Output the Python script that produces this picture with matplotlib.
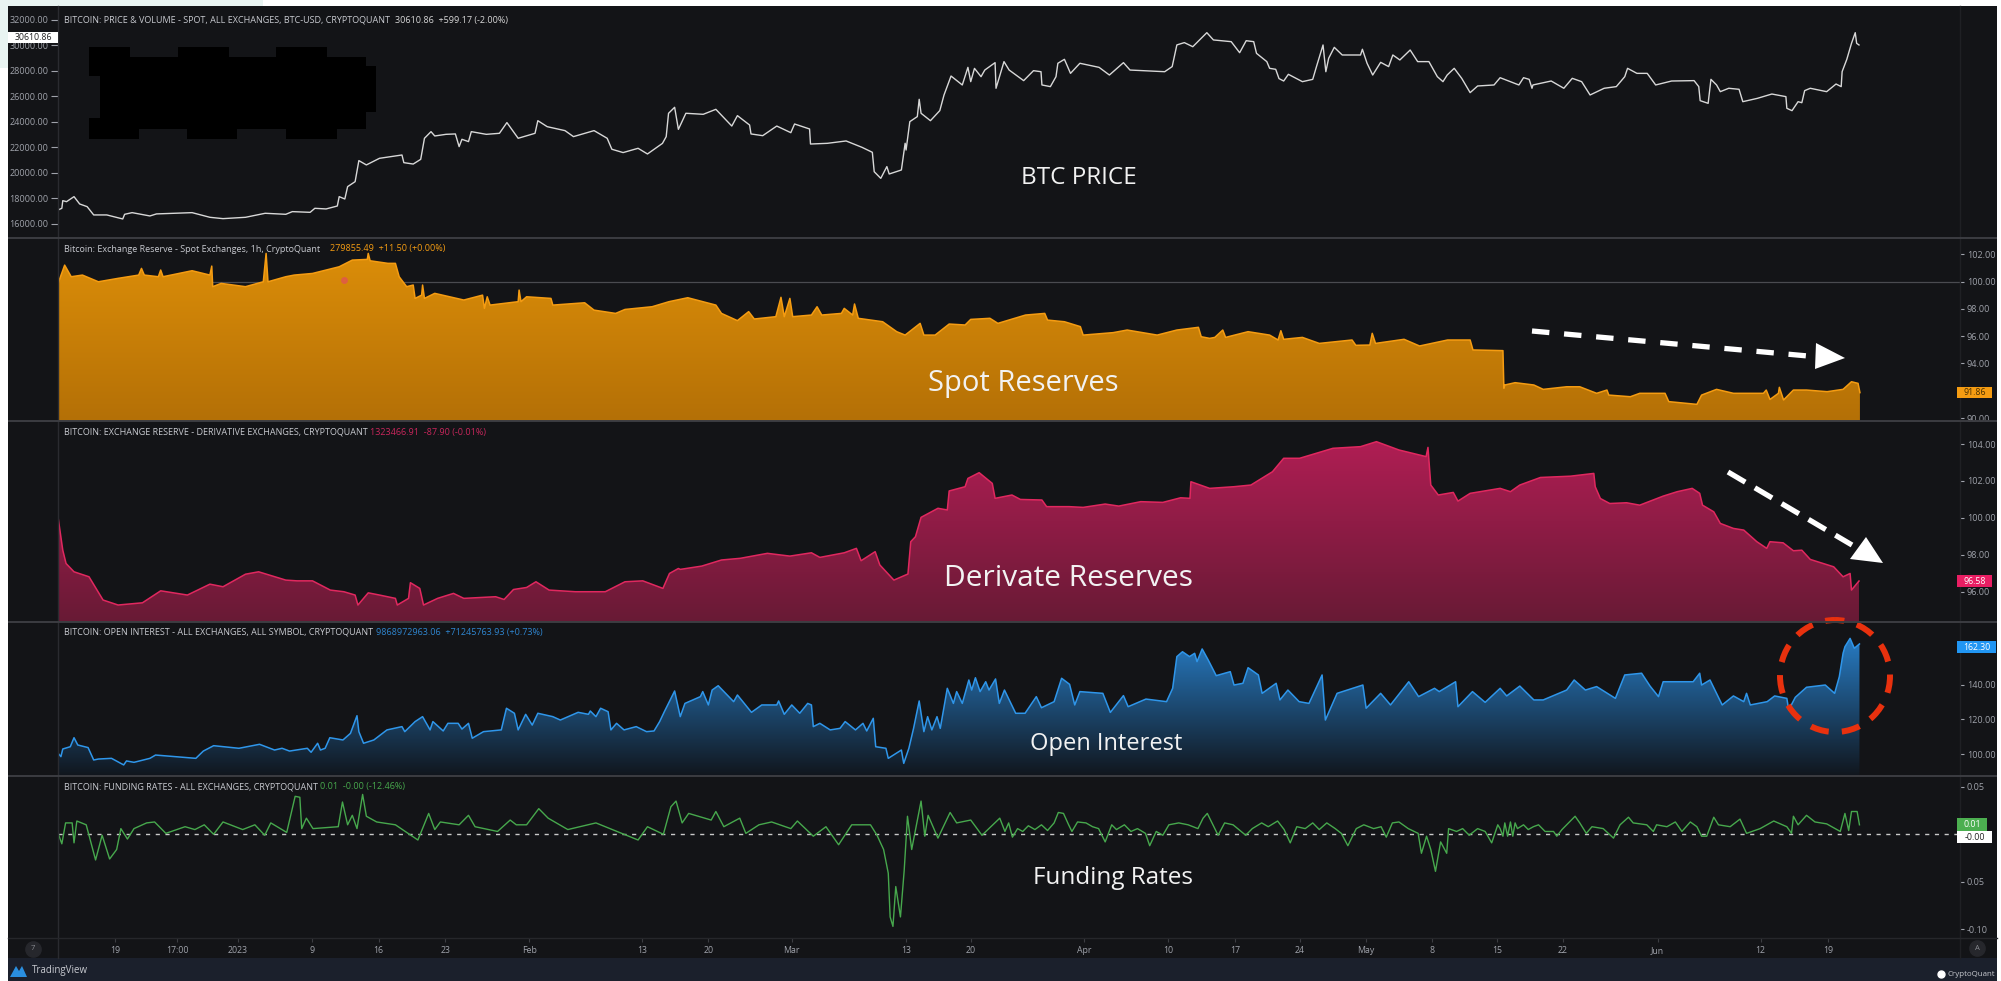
import matplotlib
matplotlib.use("Agg")
import matplotlib.pyplot as plt
import numpy as np
from matplotlib.colors import LinearSegmentedColormap
from matplotlib.patches import Ellipse, Polygon, Rectangle

W, H = 2001, 981

# x is days from 1 Jan 2023
price_days = [-19.2,-18.8,-18.7,-18.3,-17.5,-16.9,-16.1,-15.4,-14.0,-12.3,-12.1,-11.3,-9.4,-8.7,-4.9,-3.0,-1.6,0.8,2.9,5.1,5.8,7.7,8.2,9.4,10.6,10.8,11.4,11.7,12.5,12.9,13.7,15.1,17.5,17.7,18.7,19.5,19.9,20.6,21.0,22.2,23.2,23.6,23.9,24.6,24.9,26.5,27.9,28.7,29.9,31.7,32,33,34.9,35.8,38,39.4,39.9,41.1,42.7,43.7,45.3,45.7,45.95,46.6,47.0,47.8,49.65,51,52.7,53.3,54.6,54.75,56,57.5,59,59.4,61,61.1,62.9,64.9,66.6,67.7,67.9,68.6,69.25,69.5,70.8,71.2,71.3,71.7,72.5,72.7,72.9,73.9,74.9,75.35,76.1,77.3,77.9,78.2,78.6,79.3,79.7,80.8,80.9,81.75,82.3,83.85,84.9,85.7,85.8,86.7,87.3,87.5,88.2,88.85,89.85,91.9,93,94.5,95.2,98.9,99.7,100.2,101,101.9,103.4,104.1,106,106.9,107.6,108.4,108.7,109.8,110.1,110.75,111.1,111.6,112.1,113.6,114.7,115.1,115.8,116.1,116.4,117,117.85,119.8,120,120.5,121.1,121.95,122.8,123.25,124,125.1,125.9,127.1,128,128.6,129.05,129.8,130.6,131.5,132.3,134.05,134.7,136.7,137.2,137.8,138.1,138.2,140.15,141.5,142.4,143.4,144.3,145.8,147.1,148,148.3,149.3,150.4,151.3,153,155.4,155.9,156.05,156.9,157.2,157.8,158.2,159.1,160.2,160.6,162.15,163.7,165.2,165.3,165.85,166.5,166.9,167.2,167.8,169.55,170.55,171.1,171.2,171.7,172.2,172.6,172.75,173]
price_values = [17100,17230,17830,17750,18145,17570,17360,16710,16710,16395,16760,16890,16630,16790,16890,16525,16420,16525,16840,16760,16970,16915,17230,17180,17410,18145,17960,18930,19320,20970,20630,21150,21410,20810,20700,21070,22720,23240,22900,23030,23060,22065,22640,22460,23240,23030,23110,23950,22720,23110,24100,23630,23320,22850,23320,22720,21860,21600,21935,21490,22320,22850,24678,25150,23420,24680,24600,24990,23680,24495,23760,23060,22925,23680,23160,23840,23450,22270,22325,22510,22010,21620,20100,19580,20500,19920,20235,22330,21800,24025,24420,25775,24680,24100,24890,26115,27600,26900,28280,27160,28200,27550,28070,28650,26640,28730,28070,27240,28020,27940,26900,26770,27550,28600,28910,27810,28600,28280,27680,28650,28070,27940,28340,30040,30220,29900,31000,30430,30295,29430,30370,30295,29380,28730,28205,28127,27400,27210,27735,27160,27340,28340,30035,27940,28990,29850,29250,29250,29700,28600,27680,28675,28340,29250,28860,29640,28730,28730,27550,27160,27680,28205,27420,26300,26820,26900,27470,26900,27470,27340,26640,26900,27210,26640,27420,27160,26115,26640,26770,27550,28205,27810,27810,26900,27210,27240,26770,25670,25460,27340,26900,26375,26640,26560,25590,25850,26190,25985,25070,24885,25590,25510,26455,26640,26375,26975,26770,27945,28910,30165,31000,30165,30035]

spot_days = [-19.2,-18.5,-17.8,-16.6,-14.9,-12.8,-10.6,-10.3,-10,-8.5,-8.25,-8,-4.9,-3,-2.8,-2.7,-1.8,0.8,2.7,3,3.2,5.1,6,7.95,10.8,12.2,13.8,13.9,14.1,16,16.8,17.2,18,18.7,18.9,19.6,19.7,19.9,21,24.1,26.1,26.3,26.6,26.9,29.9,30,30.2,30.8,33.4,33.6,37,38,40.3,41.3,44.2,46,48,51,51.6,53.3,54.5,55.1,57.4,57.95,58.3,58.9,59.2,61.2,61.8,62.3,64.4,64.7,65.6,65.8,66.2,68.8,70.3,71.2,72.8,73.2,74.4,75.9,77.6,78.2,80.25,81.1,84.05,86.1,86.4,88.2,89.9,90.2,93.4,94.9,98.1,100.2,102.5,102.8,103.7,104.25,105.1,105.4,107.8,110.1,111,111.3,111.6,113.6,115.4,118.9,119.3,120.8,121.05,121.4,124.45,126.1,129.1,131.5,131.8,135,135.1,135.2,136.3,138.3,139.3,141.8,143.2,145,146.1,146.3,148.6,149.6,152.3,152.7,155.7,156.2,157.8,159.6,162.8,163.1,163.5,164.4,164.5,164.95,166,167.4,169.6,171.3,172.2,172.9,173.1]
spot_values = [99.87,101.21,100.36,100.48,99.99,100.24,100.48,100.97,100.48,100.36,100.85,100.36,100.8,100.48,101.14,99.63,99.87,99.63,99.99,102.07,99.99,100.36,100.48,100.6,101.09,101.58,101.63,102.07,101.53,101.34,101.34,100.36,99.63,99.75,98.77,99.01,99.75,98.77,99.14,98.65,99.01,98.04,98.89,98.28,98.53,99.38,98.53,98.89,98.77,98.28,98.45,97.91,97.67,97.96,98.16,98.53,98.82,98.28,97.67,97.14,97.8,97.26,97.43,98.85,97.43,98.77,97.43,97.55,98.16,97.55,97.67,98.04,97.55,98.36,97.31,97.06,96.33,96.08,96.94,96.08,96.08,96.89,96.82,97.23,97.31,96.94,97.55,97.67,97.18,97.06,96.7,96.08,96.26,96.45,96.08,96.45,96.65,95.96,95.84,95.91,96.45,95.91,96.33,96.08,95.72,96.4,95.77,95.91,95.47,95.72,95.33,95.35,96.21,95.47,95.77,95.28,95.72,95.72,94.99,94.94,92.18,92.42,92.59,92.42,92.1,92.29,92.29,91.81,92.05,91.68,91.56,91.81,91.81,91.2,91,91.68,92.1,91.81,91.81,92.05,91.36,91.81,92.25,91.32,92.05,92.05,91.93,92.1,92.66,92.54,91.86]

deriv_days = [-19.2,-18.7,-18.35,-17.5,-15.9,-14.4,-12.8,-10.2,-8.25,-5.4,-3,-1.6,0.8,2.2,5.1,6.3,7.95,9.85,11.3,12.5,12.8,13.9,15.1,16.8,17,18.2,18.4,19.4,19.8,21.3,23,24.1,27.5,28.4,29.4,30.8,31.8,33.2,36,39.2,41.3,43.2,45.35,46.05,47,47.2,49.5,51.6,53.6,56.5,58.9,61.2,62.1,64.7,66,66.5,68,68.5,70,71.5,71.8,72.3,72.9,74.7,75.7,75.9,77.6,77.9,79.1,80.5,80.8,82.6,83.5,85.8,86.3,88.7,90.2,92.55,94,96.35,98.7,100.6,101.6,101.7,103.7,106.3,108.1,110.4,111.6,113.3,116.85,119.8,121.5,123.9,126.8,127,127.3,128.1,129.7,130.2,131.5,134.7,135.8,136.8,139,142.2,144.7,144.85,145.4,146.4,148.2,149.6,152.1,153.6,155.2,156,156.3,157.5,158.2,159.6,160.7,162.1,163.15,163.5,164.9,166,166.9,167.8,170.3,171.3,172.05,172.2,173]
deriv_values = [100.02,98.25,97.53,97.08,96.81,95.55,95.28,95.4,96.05,95.82,96.41,96.27,96.95,97.08,96.63,96.59,96.59,96.09,96,95.82,95.28,95.94,95.82,95.64,95.28,95.64,96.49,96.18,95.28,95.64,95.91,95.64,95.73,95.58,96.12,96.23,96.54,96.09,96,96,96.54,96.59,96.18,96.99,97.26,97.21,97.39,97.72,97.81,98.08,97.93,98.11,97.86,98.11,98.35,97.68,98.17,97.45,96.63,96.96,98.71,98.98,100.03,100.52,100.43,101.46,101.69,102.14,102.45,101.87,101.06,101.24,101,100.97,100.61,100.61,100.57,100.75,100.64,100.88,100.84,101.09,101.06,101.96,101.6,101.69,101.78,102.5,103.23,103.23,103.77,103.86,104.13,103.68,103.32,103.82,101.78,101.24,101.38,100.91,101.33,101.6,101.42,101.78,102.19,102.26,102.41,101.69,101.05,100.78,100.82,100.69,101.18,101.42,101.6,101.33,100.69,100.33,99.7,99.43,99.34,98.71,98.35,98.71,98.65,98.22,98.25,97.75,97.35,96.81,96.99,96.09,96.58]

oi_days = [-19.2,-18.9,-18.7,-17.9,-17.5,-17.1,-16,-15.4,-14.9,-13.5,-12.2,-11.9,-11.1,-9.4,-8.8,-4.5,-3.7,-2.6,0.1,2.3,3.9,4.7,5.5,7.4,7.8,8.5,8.8,9.3,9.8,11.2,12,12.7,12.9,13.4,14.5,15.9,17.5,17.8,18.9,19.7,20.5,20.8,21.9,22.4,23.5,23.9,24.6,25,26.2,28.1,28.65,29.5,29.9,30.7,31.4,32,33.6,34.4,36.3,37.4,37.6,38.2,38.7,39.5,39.8,40.4,41.2,42.5,43.6,44.4,45,45.5,46.6,47.2,47.7,49.35,49.6,50.2,50.6,51.25,52.9,53.3,54.8,55.9,57.5,57.7,58.3,59.1,59.95,60.8,61.2,61.4,62.1,63.2,64.25,64.8,65.9,66.7,67.1,67.8,68.06,69.15,69.4,70.8,71.05,71.6,72.1,72.7,73.2,73.6,74.05,74.6,74.95,75.7,76.35,76.7,77.3,78,78.3,78.7,79.2,79.8,80.15,80.85,81.25,81.8,83,84,85.2,85.75,87.1,87.9,88.75,89.3,89.85,92.3,93.1,94.5,95,96.9,99.1,99.75,100.2,100.8,101.55,102.1,102.35,102.9,103.55,104.4,105.9,106.3,107.25,107.8,108.9,109.3,110.8,111.2,112.05,113.25,114.3,115.7,116.05,117.3,120.05,120.4,121.95,123,124.95,126,127.7,128.2,129.95,130.2,131.75,133.1,134.7,135.4,136.8,138.3,139.3,141.8,142.6,143.8,145,147,148,149.8,150.7,151.6,152.1,155.3,156,156.2,157.1,158.4,159.6,160.7,161,161.4,163.2,164,165.3,165.5,166.2,167.4,169.4,170.4,170.9,171.3,171.5,172.05,172.5,173.05]
oi_values = [100.4,98.5,102.9,104.2,109.4,105.2,103.7,96.55,97.1,97.5,93.7,96,95.2,97.5,99.4,97.5,101.7,104.8,103.3,105.6,102.3,103.3,101.7,103.3,101,106.2,102.3,103.3,109.4,108.1,111.9,122.1,112.9,106.2,108.1,113.9,115.8,112.9,118.7,121.55,113.9,118.7,113.3,117.7,117.7,114.4,117.7,109.1,112.9,113.9,126.4,123.5,113.9,122.9,116.7,123.5,121.55,119.6,124.05,122.9,124.8,121.55,126.4,124.4,113.9,117.7,113.9,115.8,112.9,113.3,118.7,124.4,136.35,121.55,129.2,133.1,136,128.3,136.9,139.4,130.2,134.05,124.05,128.3,128.3,130.6,122.9,128.3,123.5,129.2,128.3,115.8,117.7,113.9,114.8,118.7,113.9,117.7,113.3,120.6,104.2,103.3,97.5,102.3,94.6,103.3,114.8,130.6,112.9,121.55,113.9,121.55,114.8,137.9,129.2,136,129.2,142.7,136.9,144,136,141.7,136.9,143.3,129.2,136.9,123.5,123.5,133.1,126.7,130.2,143.7,140.2,128.3,136,135,124,133.7,127.3,131.7,130.2,137.9,156.2,159,156.2,158.1,153.3,160.6,154.2,145.2,147.5,139.8,140.8,149.8,145.6,135,140.8,131.2,136.9,130.2,129.2,145.6,119.6,135,139.8,126.4,135,128.3,141.7,133.1,137.9,136,141.7,127.3,136,129.8,137.9,133.5,139.2,131.2,131.2,136.9,142.7,136.9,138.9,132.1,145.6,146.6,139.2,133.1,141.7,141.7,146.6,139.8,142.7,128.3,133.5,130.2,135,128.3,130.2,133.5,132.1,125.4,132.7,138.5,139.8,135,144.6,158.1,161.9,166.7,161,163.5]

funding_days = [-19.27,-18.8,-18.4,-17.7,-17.5,-17.2,-16.2,-15.2,-14.5,-13.7,-12.95,-12.5,-11.8,-11.1,-9.75,-8.9,-7.7,-5.65,-4.6,-3.6,-2.6,-1.6,0.5,1.8,2.85,3.5,5.2,6.1,6.6,6.8,7.3,8,10.7,11.15,11.7,12.2,12.7,13.3,13.7,14.8,16.8,19.2,20.35,21,21.6,23.6,24.6,25.3,27.7,29.05,29.7,30.8,32.1,33.1,35.2,38.2,39.95,42.7,43.7,45.4,46.2,46.75,47.4,48.1,50.5,51,51.85,53.55,54.2,55.6,56.95,59,59.7,61.4,62.75,64.1,65.5,67.5,68.2,68.9,69.4,69.6,69.9,70.2,70.7,71.1,71.45,71.9,72.9,73.3,73.65,74.7,76,76.7,78.2,79.4,
81.3,81.85,82.25,82.65,83.2,83.75,84.35,85.05,85.75,86.4,87.1,87.55,88.1,88.65,89,89.6,90.5,91.2,91.85,92.55,93.25,93.75,94.6,95.3,96,96.85,97.3,98,98.7,99.35,100.4,101.4,102.45,103,103.45,103.95,104.6,105.3,106.2,107.05,107.55,108.25,109.25,109.95,110.95,111.65,112.3,113,113.9,114.7,115.4,116.2,117.1,117.75,118.45,119.35,120.15,121.2,122,122.55,123.2,123.9,124.9,125.95,126.3,126.85,127.3,127.8,128.35,129,129.2,130.05,130.7,131.4,132.3,133.1,133.8,134.45,
134.7,135,135.2,135.5,135.8,136.05,136.3,136.55,137.2,137.7,138.25,138.8,139.5,140.4,140.75,141.3,142,142.7,143.2,143.9,144.5,145.7,146.8,147.5,148.4,148.9,150.35,151.05,151.4,152.5,153.4,154.1,155,155.7,156.2,156.75,157.5,158,159.25,160.3,161,162.45,163.9,165.3,165.8,166,166.5,167.4,168.3,169.55,171,171.5,171.9,172.2,172.8,173.05]
funding_values = [.003,-.010,.012,.012,-.009,.014,.010,-.027,-.001,-.026,-.016,.006,-.005,.006,.012,.013,.001,.008,.005,.010,0,.013,.005,.010,-.001,.012,.002,.040,.039,.006,.017,.006,.008,.034,.010,.020,.006,.042,.019,.013,.010,-.006,.022,.005,.013,.010,.020,.008,.003,.015,.010,.010,.027,.017,.005,.012,.005,-.006,.008,0,.029,.035,.012,.022,.015,.024,.008,.017,.001,.010,.013,.006,.014,-.002,.008,-.011,.010,.010,-.001,-.016,-.041,-.087,-.097,-.055,-.087,-.038,.019,-.016,.035,-.002,.020,-.004,.023,.012,.015,-.001,
.017,.003,.012,-.003,.006,.003,.009,.005,.010,.004,.012,.023,.022,.010,.003,.013,.012,.008,.006,-.008,.010,.005,.010,.003,.006,.001,-.012,.003,-.001,.010,.012,.010,.006,.017,.022,.012,-.001,.012,.010,.003,-.001,.006,.012,.008,.014,.005,-.009,.008,.006,.012,.005,.012,.006,.001,-.012,.006,.010,.006,.008,-.003,.012,.013,.006,.001,-.020,-.002,-.016,-.039,-.008,-.020,.006,.003,.006,-.001,.006,.003,-.009,.010,
.006,-.002,.012,-.002,.013,-.002,.012,.006,.010,.005,.008,.010,.003,.003,-.002,.005,.012,.019,.012,.001,.008,.006,-.004,.010,.018,.012,.010,.003,.010,.008,.013,.003,.013,.008,-.002,-.002,.018,.010,.008,.016,.001,.006,.014,.008,.001,.019,.010,.020,.013,.011,.003,.022,.004,.024,.024,.010]

tick_days = [-13.1,-6.5,0,7.9,15,22.1,31.1,43.1,50.2,59.1,71.3,78.2,90.3,99.3,106.4,113.3,120.4,127.4,134.4,141.4,151.5,162.5,169.7]
tick_labels = ["19","17:00","2023","9","16","23","Feb","13","20","Mar","13","20","Apr","10","17","24","May","8","15","22","Jun","12","19"]

price_ticks = [16000,18000,20000,22000,24000,26000,28000,30000,32000]
spot_ticks = [90,94,96,98,100,102]
deriv_ticks = [96,98,100,102,104]
oi_ticks = [100,120,140]
funding_ticks = [0.05,-0.05,-0.10]
funding_tick_labels = ["0.05","0.05","-0.10"]

BG = "#131417"
BAR = "#1b202c"
GRID = "#3c3d42"
TICK = "#a0a3ab"
FONT = "Open Sans"
XLIM = (-19.21, 183.78)

plt.rcParams["font.family"] = FONT

fig = plt.figure(figsize=(W / 100, H / 100), dpi=100, facecolor="white")


def rect(x0, y0, x1, y1):
    return [x0 / W, 1 - y1 / H, (x1 - x0) / W, (y1 - y0) / H]


# backdrop, in pixels of the picture
back = fig.add_axes([0, 0, 1, 1], zorder=0)
back.set_xlim(0, W)
back.set_ylim(H, 0)
back.axis("off")
back.add_patch(Rectangle((0, 0), 263, 6, color="#e9f4f2", lw=0))
back.add_patch(Rectangle((0, 0), 8, 68, color="#e9f4f2", lw=0))
back.add_patch(Rectangle((8, 6), 1989, 952, color=BG, lw=0))
back.add_patch(Rectangle((8, 958), 1989, 23, color=BAR, lw=0))


def panel(y0, y1, ylim, ticks, labels=None, left=False):
    ax = fig.add_axes(rect(58, y0, 1960, y1), zorder=1)
    ax.set_facecolor("none")
    ax.set_xlim(*XLIM)
    ax.set_ylim(*ylim)
    for s in ax.spines.values():
        s.set_visible(False)
    ax.set_xticks([])
    ax.set_yticks(ticks)
    if labels is None:
        labels = ["%.2f" % t for t in ticks]
    ax.set_yticklabels(labels, fontsize=6.5)
    if left:
        ax.tick_params(axis="y", left=True, right=False, labelleft=True, labelright=False,
                       length=5, width=0.8, color=TICK, labelcolor=TICK, pad=2)
    else:
        ax.tick_params(axis="y", left=False, right=True, labelleft=False, labelright=True,
                       length=3, width=0.8, color=TICK, labelcolor=TICK, pad=2)
    return ax


def area(ax, days, values, top, bottom, line):
    cmap = LinearSegmentedColormap.from_list("g", [bottom, top])
    lo, hi = ax.get_ylim()
    grad = np.linspace(1, 0, 256).reshape(-1, 1)
    img = ax.imshow(grad, cmap=cmap, aspect="auto", extent=(XLIM[0], XLIM[1], lo, hi),
                    interpolation="bilinear", zorder=2)
    poly = ax.fill_between(days, values, lo, color="none", lw=0)
    img.set_clip_path(poly.get_paths()[0], transform=ax.transData)
    ax.plot(days, values, color=line, lw=1.1, zorder=3)
    ax.set_xlim(*XLIM)
    ax.set_ylim(lo, hi)


ax_price = panel(6, 238, (14902, 33091), price_ticks, left=True)
ax_price.plot(price_days, price_values, color="#d8d8d8", lw=1.0)

ax_spot = panel(238, 421, (89.78, 103.2), spot_ticks)
ax_spot.axhline(100, color="#4a4b50", lw=0.9, zorder=1)
area(ax_spot, spot_days, spot_values, "#df9009", "#b47006", "#f59c12")
ax_spot.plot([11.3], [100.1], "o", color="#e0594a", ms=4, alpha=0.8, zorder=4)

ax_deriv = panel(421, 622, (94.36, 105.25), deriv_ticks)
area(ax_deriv, deriv_days, deriv_values, "#b81e57", "#681a35", "#e0285f")

ax_oi = panel(622, 776, (87.31, 176.16), oi_ticks)
area(ax_oi, oi_days, oi_values, "#2a88d8", "#11161d", "#2f96ea")

ax_fund = panel(776, 938, (-0.1092, 0.0614), funding_ticks, funding_tick_labels)
ax_fund.axhline(0, color="#c9c9c9", lw=1.0, ls=(0, (3, 4)), zorder=1)
ax_fund.plot(funding_days, funding_values, color="#47a84d", lw=1.0, zorder=3)
ax_fund.set_xticks(tick_days)
ax_fund.set_xticklabels(tick_labels, fontsize=6.3)
ax_fund.tick_params(axis="x", length=3, width=0.8, color=GRID, labelcolor=TICK, pad=3)

# everything on top: separators, value tags, captions, hand drawn marks
over = fig.add_axes([0, 0, 1, 1], zorder=5)
over.set_xlim(0, W)
over.set_ylim(H, 0)
over.axis("off")

for y in [238, 421, 622, 776]:
    over.plot([8, 1997], [y, y], color=GRID, lw=1.4, solid_capstyle="butt")
over.plot([8, 1997], [938, 938], color="#26272b", lw=1.0)
over.plot([58, 58], [6, 958], color="#2a2b30", lw=1.0, zorder=1)
over.plot([1960, 1960], [6, 958], color="#1f2024", lw=1.0, zorder=1)

# blacked out block in the price panel
over.add_patch(Polygon([(89, 47), (130, 47), (130, 57), (178, 57), (178, 47), (229, 47), (229, 57),
                        (276, 57), (276, 47), (327, 47), (327, 57), (366, 57), (366, 66), (376, 66),
                        (376, 112), (366, 112), (366, 129), (337, 129), (337, 139), (286, 139),
                        (286, 129), (237, 129), (237, 139), (187, 139), (187, 129), (139, 129),
                        (139, 139), (89, 139), (89, 118), (100, 118), (100, 76), (89, 76)],
                       color="black", lw=0))

titles = [
    (64, 20, "BITCOIN: PRICE & VOLUME - SPOT, ALL EXCHANGES, BTC-USD, CRYPTOQUANT", 395, "30610.86  +599.17 (-2.00%)", "#d8d8d8"),
    (64, 249, "Bitcoin: Exchange Reserve - Spot Exchanges, 1h, CryptoQuant", 330, "279855.49  +11.50 (+0.00%)", "#f59c12"),
    (64, 432, "BITCOIN: EXCHANGE RESERVE - DERIVATIVE EXCHANGES, CRYPTOQUANT", 370, "1323466.91  -87.90 (-0.01%)", "#c9265c"),
    (64, 632, "BITCOIN: OPEN INTEREST - ALL EXCHANGES, ALL SYMBOL, CRYPTOQUANT", 376.5, "9868972963.06  +71245763.93 (+0.73%)", "#2f86d0"),
    (64, 787, "BITCOIN: FUNDING RATES - ALL EXCHANGES, CRYPTOQUANT", 320, "0.01  -0.00 (-12.46%)", "#47a84d"),
]
for x, y, t, vx, v, c in titles:
    over.text(x, y, t, color="#c8cad0", fontsize=6.45, va="center", ha="left")
    over.text(vx, y, v, color=c, fontsize=6.45, va="center", ha="left")

tags = [
    (8, 32, 58, 43, "30610.86", "white", "#222222"),
    (1957, 387, 1992, 398, "91.86", "#f59c12", "#4a3000"),
    (1957, 575, 1992, 587, "96.58", "#e91e63", "white"),
    (1957, 641, 1996, 653, "162.30", "#2196f3", "white"),
    (1957, 818, 1987, 831, "0.01", "#4caf50", "white"),
    (1957, 831, 1992, 843, "-0.00", "white", "#222222"),
]
for x0, y0, x1, y1, t, bg, fg in tags:
    over.add_patch(Rectangle((x0, y0), x1 - x0, y1 - y0, color=bg, lw=0))
    over.text((x0 + x1) / 2, (y0 + y1) / 2, t, color=fg, fontsize=6.3, ha="center", va="center")

captions = [
    (1079, 178, "BTC PRICE", 17.5),
    (1023, 384, "Spot Reserves", 21),
    (1068, 579, "Derivate Reserves", 21.5),
    (1106, 744, "Open Interest", 17),
    (1113, 878, "Funding Rates", 17.5),
]
for x, y, t, s in captions:
    over.text(x, y, t, color="#f2f2f2", fontsize=s, ha="center", va="center")

# dashed arrows
over.plot([1532, 1808], [331, 356], color="white", lw=3.8, ls=(0, (3.3, 2.8)))
over.add_patch(Polygon([(1816, 343), (1845, 358), (1815, 369)], color="white", lw=0))
over.plot([1728, 1852], [472, 545], color="white", lw=3.8, ls=(0, (3.8, 2.1)))
over.add_patch(Polygon([(1866, 537), (1883, 563), (1850, 559)], color="white", lw=0))

over.add_patch(Ellipse((1835, 676), 110, 112, fill=False, ec="#e8310e", lw=4.3,
                       ls=(1.55, (3.1, 2.2))))

# footer and corner buttons
over.plot([33, 1977], [949, 948], "o", color="#26272c", ms=11, ls="none")
over.text(33, 949, "7", color="#8a8c92", fontsize=5.5, ha="center", va="center")
over.text(1977, 948, "A", color="#8a8c92", fontsize=5.5, ha="center", va="center")
over.add_patch(Polygon([(10, 977), (16, 966), (19, 971), (22, 966), (27, 977)], color="#2a8fe0", lw=0))
over.text(32, 971, "TradingView", color="#c8cad0", fontsize=7, va="center", ha="left")
over.plot([1941], [974], "o", color="white", ms=5)
over.text(1948, 974, "CryptoQuant", color="#c8cad0", fontsize=5.7, va="center", ha="left")

fig.savefig("out.png", dpi=100, facecolor=fig.get_facecolor())
